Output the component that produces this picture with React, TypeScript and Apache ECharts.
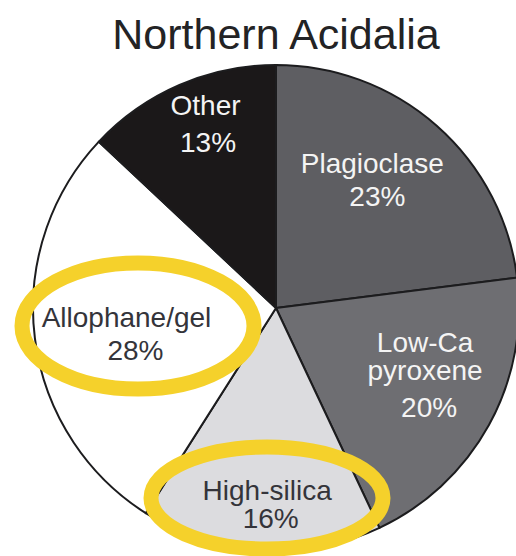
import React, { useEffect, useRef } from "react";
import * as echarts from "echarts";

// Mineral abundances, Northern Acidalia (percent of surface)
const minerals = ["Plagioclase", "Low-Ca\npyroxene", "High-silica", "Allophane/gel", "Other"];
const percents = [23, 20, 16, 28, 13];

const sliceColors = ["#5e5e62", "#6e6e72", "#dcdcdf", "#ffffff", "#1b1819"];
const labelColors = ["#f4f4f4", "#f4f4f4", "#34343a", "#34343a", "#f4f4f4"];

// Label placement: shift from the default inside spot, line heights, and
// how far the percentage line sits right of the name line.
const labelStyles = [
  { dx: 14, dy: -35, nameLh: 33, valueLh: 33, valueShift: 10 },
  { dx: 40, dy: 16, nameLh: 28, valueLh: 46, valueShift: 8 },
  { dx: -1, dy: 72, nameLh: 28, valueLh: 28, valueShift: 7 },
  { dx: -26, dy: 10, nameLh: 33, valueLh: 33, valueShift: 18 },
  { dx: -21, dy: -70, nameLh: 37, valueLh: 37, valueShift: 5 },
];

const FONT = "'Liberation Sans', Arial, Helvetica, sans-serif";
const HIGHLIGHT = "#f5d12b";

export default function App() {
  const ref = useRef<HTMLDivElement>(null);

  useEffect(() => {
    if (!ref.current) return;
    const chart = echarts.init(ref.current, null, { renderer: "svg" });

    const data = minerals.map((name, i) => {
      const s = labelStyles[i];
      return {
        name,
        value: percents[i],
        itemStyle: { color: sliceColors[i] },
        label: {
          rich: {
            n: {
              fontSize: 28,
              fontFamily: FONT,
              color: labelColors[i],
              lineHeight: s.nameLh,
              align: "center",
            },
            v: {
              fontSize: 28,
              fontFamily: FONT,
              color: labelColors[i],
              lineHeight: s.valueLh,
              padding: [0, 0, 0, s.valueShift],
              align: "center",
            },
          },
        },
      };
    });

    chart.setOption({
      animation: false,
      graphic: [
        {
          type: "text",
          x: 276,
          y: 34,
          style: {
            text: "Northern Acidalia",
            fontSize: 43,
            fontFamily: FONT,
            fill: "#232325",
            align: "center",
            verticalAlign: "middle",
          },
        },
        {
          type: "ellipse",
          z: 100,
          shape: { cx: 138, cy: 326, rx: 116, ry: 63 },
          style: { fill: "none", stroke: HIGHLIGHT, lineWidth: 15 },
        },
        {
          type: "ellipse",
          z: 100,
          shape: { cx: 267, cy: 498, rx: 116, ry: 51 },
          style: { fill: "none", stroke: HIGHLIGHT, lineWidth: 15 },
        },
      ],
      series: [
        {
          type: "pie",
          center: [276, 308],
          radius: 243,
          startAngle: 90,
          clockwise: true,
          silent: true,
          emphasis: { disabled: true },
          itemStyle: { borderColor: "#1c1c1e", borderWidth: 2 },
          label: {
            show: true,
            position: "inside",
            formatter: (p: any) => `{n|${p.name}}\n{v|${p.value}%}`,
          },
          labelLine: { show: false },
          labelLayout: (p: any) => {
            const s = labelStyles[p.dataIndex];
            const r = p.labelRect;
            return {
              x: r.x + r.width / 2 + s.dx,
              y: r.y + r.height / 2 + s.dy,
            };
          },
          data,
        },
      ],
    });

    return () => chart.dispose();
  }, []);

  return (
    <div
      ref={ref}
      style={{ position: "fixed", left: 0, top: 0, width: 516, height: 556, background: "#ffffff" }}
    />
  );
}
